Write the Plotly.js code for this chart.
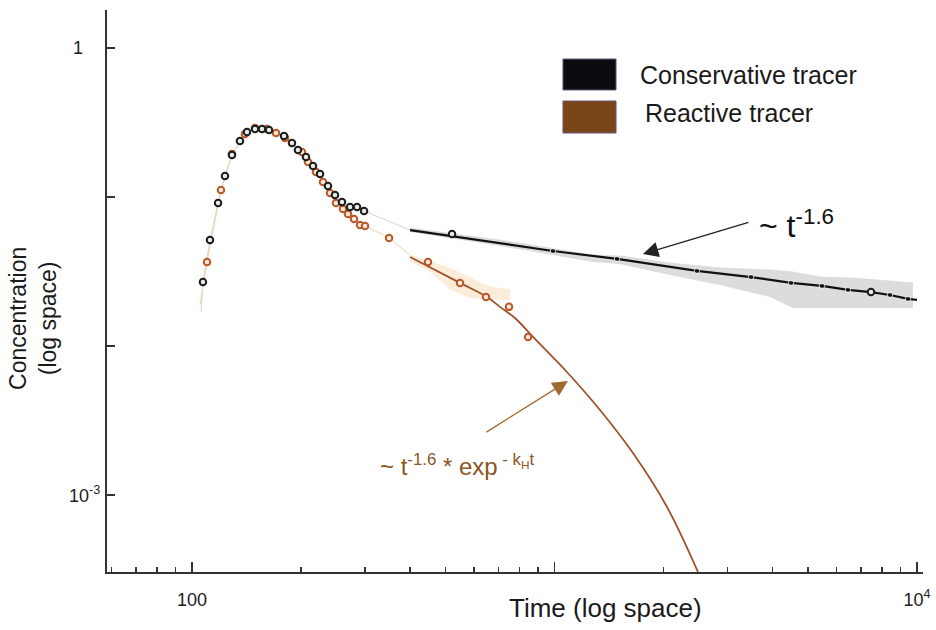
<!DOCTYPE html>
<html>
<head>
<meta charset="utf-8">
<script src="https://cdn.plot.ly/plotly-3.0.1.min.js"></script>
<style>html,body{margin:0;padding:0;background:#fff;}#chart{width:936px;height:630px;}</style>
</head>
<body>
<div id="chart"></div>
<script>
// ---- Data (time, concentration) ----
const consT = [107.2,112.1,118.0,123.3,128.9,135.6,141.8,149.2,156.0,163.1,179.4,188.7,196.0,206.3,215.7,225.5,237.2,248.0,259.3,272.9,285.3,298.3,521.6,7466];
const consC = [0.0269,0.0514,0.0911,0.1383,0.1914,0.2375,0.2730,0.2861,0.2861,0.2817,0.2566,0.2304,0.2067,0.1856,0.1615,0.1427,0.1185,0.1031,0.0926,0.0857,0.0857,0.0805,0.0565,0.0230];

const reacT = [110.0,120.2,128.9,140.0,149.2,161.0,170.5,180.6,201.1,208.9,219.8,229.8,240.3,249.6,260.9,269.4,279.9,290.8,300.1,349.6,447.7,548.8,647.2,749.0,845.3];
const reacC = [0.0366,0.1114,0.1943,0.2648,0.2904,0.2861,0.2689,0.2489,0.2005,0.1717,0.1472,0.1261,0.1064,0.0911,0.0831,0.0769,0.0712,0.0649,0.0639,0.0531,0.0366,0.0265,0.0213,0.0183,0.0115];

// faint raw-data line (conservative) and (reactive)
const consRawT = [105.9,107.2,112.1,118.0,123.3,128.9,135.6,141.8,149.2,156.0,163.1,179.4,188.7,196.0,206.3,215.7,225.5,237.2,248.0,259.3,272.9,285.3,298.3,399.6,521.6];
const consRawC = [0.0169,0.0269,0.0514,0.0911,0.1383,0.1914,0.2375,0.2730,0.2861,0.2861,0.2817,0.2566,0.2304,0.2067,0.1856,0.1615,0.1427,0.1185,0.1031,0.0926,0.0857,0.0857,0.0805,0.0600,0.0560];
const reacRawT = [105.2,110.0,120.2,128.9,140.0,149.2,161.0,170.5,180.6,201.1,208.9,219.8,229.8,240.3,249.6,260.9,269.4,279.9,290.8,300.1,349.6,399.6];
const reacRawC = [0.0188,0.0366,0.1114,0.1943,0.2648,0.2904,0.2861,0.2689,0.2489,0.2005,0.1717,0.1472,0.1261,0.1064,0.0911,0.0831,0.0769,0.0712,0.0649,0.0639,0.0531,0.0408];

// noisy raw tail envelopes
const grayBandT  = [399.6,707.3,1277,1516,2083,2861,3931,4550,5400,6658,9750];
const grayUpper  = [0.0619,0.0514,0.0408,0.0402,0.0361,0.0334,0.0324,0.0314,0.0290,0.0286,0.0265];
const grayLower  = [0.0582,0.0469,0.0366,0.0355,0.0300,0.0257,0.0213,0.0180,0.0180,0.0180,0.0180];
const orangeBandT = [399.6,453.5,515,584.8,663.9,754];
const orangeUpper = [0.0408,0.0366,0.0334,0.0286,0.0249,0.0238];
const orangeLower = [0.0366,0.0314,0.0238,0.0210,0.0204,0.0204];

// fitted curves
const consFitT = [399.6,990.6,1487.8,2472,3485,4492,5470,6452,7466,8425,9445,10000];
const consFitC = [0.0600,0.0434,0.0384,0.0319,0.0290,0.0265,0.0253,0.0238,0.0230,0.0220,0.0207,0.0204];
const reacFitT = [399.6,548.8,651.3,707.3,778.1,872.5,1082,1335,1646.6,2043,2488];
const reacFitC = [0.0396,0.0265,0.0213,0.0183,0.0154,0.0115,0.00669,0.00372,0.00191,0.000831,0.000304];

// ticks
const xTickVals = [100,1000,10000];
const xTickText = ['100','','10<sup>4</sup>'];
const xMinorVals = [60,70,80,90,200,300,400,500,600,700,800,900,2000,3000,4000,5000,6000,7000,8000,9000];
const yTickVals = [1,0.1,0.01,0.001];
const yTickText = ['1','','','10<sup>-3</sup>'];
const yTickLabelGap = [22,7,7,5]; // pixel gap between each label box and the axis line

// legend labels
const legendLabels = ['Conservative tracer','Reactive tracer'];
const legendColors = ['#0d0b10','#7a4517'];

const FONT = '"Liberation Sans", Arial, sans-serif';
const dotSizes = consFitT.map((t,i)=> (i===0||i===consFitT.length-1)?0:5.5);

const traces = [
  {x: grayBandT, y: grayLower, mode:'lines', line:{width:0,color:'rgba(0,0,0,0)'}, hoverinfo:'skip', showlegend:false},
  {x: grayBandT, y: grayUpper, mode:'lines', line:{width:0.5,color:'#cfcfcf'}, fill:'tonexty', fillcolor:'rgba(185,185,185,0.5)', hoverinfo:'skip', showlegend:false},
  {x: orangeBandT, y: orangeLower, mode:'lines', line:{width:0,color:'rgba(0,0,0,0)'}, hoverinfo:'skip', showlegend:false},
  {x: orangeBandT, y: orangeUpper, mode:'lines', line:{width:0.5,color:'#fbe2c4'}, fill:'tonexty', fillcolor:'rgba(247,200,140,0.32)', hoverinfo:'skip', showlegend:false},
  {x: consRawT, y: consRawC, mode:'lines', line:{width:1,color:'#d6d6d6'}, showlegend:false},
  {x: reacRawT, y: reacRawC, mode:'lines', line:{width:1,color:'#f5cfa6'}, showlegend:false},
  {x: consFitT, y: consFitC, mode:'lines+markers', line:{width:2.2,color:'#111'}, marker:{size:dotSizes,color:'#111'}, showlegend:false},
  {x: reacFitT, y: reacFitC, mode:'lines', line:{width:1.8,color:'#a0522d',shape:'spline'}, showlegend:false},
  {x: reacT, y: reacC, mode:'markers', marker:{symbol:'circle',size:6.5,color:'#fbe8dc',line:{width:2,color:'#b9592a'}}, showlegend:false},
  {x: consT, y: consC, mode:'markers', marker:{symbol:'circle',size:6.5,color:'#e6ebe8',line:{width:2,color:'#1c1c1c'}}, showlegend:false}
];

const L = Math.log10;
const annotations = [
  // arrows
  {x: L(1754), y: L(0.04144), xref:'x', yref:'y', text:'', showarrow:true, ax:107, ay:-32, arrowhead:2, arrowsize:2.2, arrowwidth:1.4, arrowcolor:'#222'},
  {x: L(1089), y: L(0.005822), xref:'x', yref:'y', text:'', showarrow:true, ax:-83, ay:52, arrowhead:2, arrowsize:2.2, arrowwidth:1.4, arrowcolor:'#a0692e'},
  // labels
  {x: L(3619), y: L(0.0660), xref:'x', yref:'y', xanchor:'left', yanchor:'middle', showarrow:false, text:'~ t<sup>-1.6</sup>', font:{family:FONT,size:32,color:'#111'}},
  {x: L(326), y: L(0.00159), xref:'x', yref:'y', xanchor:'left', yanchor:'middle', showarrow:false, text:'~ t<sup>-1.6</sup> * exp<sup> - k<sub>H</sub>t</sup>', font:{family:FONT,size:24,color:'#8c5523'}},
  // legend text
  {x: 0.6507, y: 0.8843, xref:'paper', yref:'paper', xanchor:'left', yanchor:'middle', showarrow:false, text:legendLabels[0], font:{family:FONT,size:25,color:'#1a1a1a'}},
  {x: 0.6569, y: 0.8167, xref:'paper', yref:'paper', xanchor:'left', yanchor:'middle', showarrow:false, text:legendLabels[1], font:{family:FONT,size:25,color:'#1a1a1a'}},
  // axis titles
  {x: -0.0907, y: 0.452, xref:'paper', yref:'paper', xanchor:'center', yanchor:'middle', showarrow:false, textangle:-90, text:'Concentration<br>(log space)', font:{family:FONT,size:23,color:'#1a1a1a'}},
  {x: 0.6103, y: -0.064, xref:'paper', yref:'paper', xanchor:'center', yanchor:'middle', showarrow:false, text:'Time (log space)', font:{family:FONT,size:26,color:'#1a1a1a'}}
];
// y tick labels placed individually (reference has uneven offsets)
yTickVals.forEach((v,i)=>{
  if (!yTickText[i]) return;
  annotations.push({x:0, y:L(v), xref:'paper', yref:'y', xanchor:'right', yanchor:'middle', xshift:-yTickLabelGap[i],
    showarrow:false, text:yTickText[i], font:{family:FONT,size:18,color:'#222'}});
});

const shapes = [
  {type:'rect', xref:'paper', yref:'paper', x0:0.5588, x1:0.6238, y0:0.8577, y1:0.9128, fillcolor:legendColors[0], line:{color:'#5a5a80',width:1}},
  {type:'rect', xref:'paper', yref:'paper', x0:0.5588, x1:0.6238, y0:0.7811, y1:0.8381, fillcolor:legendColors[1], line:{color:'#6a5a80',width:1}}
];

const layout = {
  width:936, height:630,
  margin:{l:107, r:13, t:10, b:58, pad:0},
  paper_bgcolor:'#fff', plot_bgcolor:'#fff',
  showlegend:false,
  font:{family:FONT, color:'#222'},
  xaxis:{type:'log', range:[1.7655, 4.0166], showline:true, linecolor:'#333', linewidth:2,
    ticks:'inside', ticklen:10, tickwidth:1.5, tickcolor:'#333',
    tickmode:'array', tickvals:xTickVals, ticktext:xTickText, tickfont:{family:FONT,size:18,color:'#222'},
    ticklabelstandoff:10,
    showgrid:false, zeroline:false,
    minor:{tickmode:'array', tickvals:xMinorVals, ticks:'inside', ticklen:5, tickwidth:1.5, tickcolor:'#333', showgrid:false}},
  yaxis:{type:'log', range:[-3.517, 0.255], showline:true, linecolor:'#333', linewidth:2,
    ticks:'inside', ticklen:8, tickwidth:1.5, tickcolor:'#333',
    tickmode:'array', tickvals:yTickVals, showticklabels:false,
    showgrid:false, zeroline:false},
  annotations: annotations,
  shapes: shapes
};

Plotly.newPlot('chart', traces, layout, {displayModeBar:false, staticPlot:true});
</script>
</body>
</html>
